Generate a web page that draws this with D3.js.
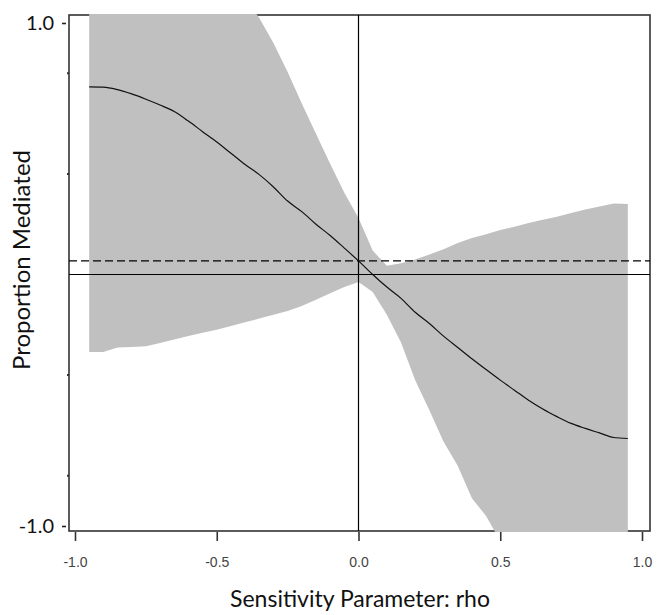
<!DOCTYPE html>
<html>
<head>
<meta charset="utf-8">
<script src="https://cdn.jsdelivr.net/npm/d3@7"></script>
<style>
  body { margin: 0; background: #fff; }
  svg { display: block; }
</style>
</head>
<body>
<div id="chart"></div>
<script>
// Sensitivity values (rho) and estimates
var rho = [-0.95, -0.90, -0.85, -0.80, -0.75, -0.70, -0.65, -0.60, -0.55, -0.50,
           -0.45, -0.40, -0.35, -0.30, -0.25, -0.20, -0.15, -0.10, -0.05, 0.00,
            0.05, 0.10, 0.15, 0.20, 0.25, 0.30, 0.35, 0.40, 0.45, 0.50,
            0.55, 0.60, 0.65, 0.70, 0.75, 0.80, 0.85, 0.90, 0.95];

// proportion mediated (point estimate)
var estimate = [0.746, 0.745, 0.735, 0.718, 0.697, 0.674, 0.648, 0.610, 0.568, 0.527,
                0.482, 0.437, 0.397, 0.348, 0.292, 0.250, 0.200, 0.155, 0.105, 0.054,
                0.000, -0.050, -0.095, -0.150, -0.195, -0.245, -0.290, -0.335, -0.378, -0.420,
                -0.460, -0.500, -0.535, -0.565, -0.592, -0.612, -0.630, -0.648, -0.652];

// upper bound of the interval (runs off the top of the plot on the left)
var upper = [2.00, 1.91, 1.82, 1.73, 1.64, 1.55, 1.46, 1.38, 1.31, 1.24,
             1.17, 1.10, 1.02, 0.920, 0.805, 0.680, 0.560, 0.440, 0.325, 0.225,
             0.095, 0.035, 0.045, 0.060, 0.080, 0.100, 0.125, 0.145, 0.160, 0.177,
             0.190, 0.205, 0.218, 0.230, 0.245, 0.258, 0.270, 0.282, 0.280];

// lower bound of the interval (runs off the bottom on the right)
var lower = [-0.308, -0.308, -0.290, -0.288, -0.285, -0.272, -0.258, -0.245, -0.232, -0.220,
             -0.205, -0.190, -0.175, -0.160, -0.145, -0.125, -0.100, -0.075, -0.050, -0.030,
             -0.070, -0.160, -0.270, -0.420, -0.540, -0.665, -0.760, -0.890, -0.960, -1.060,
             -1.150, -1.240, -1.330, -1.420, -1.510, -1.600, -1.690, -1.770, -1.850];

var refValue = 0.054;   // dashed line: estimate at rho = 0

var xTicks = [-1, -0.5, 0, 0.5, 1];
var yMajorTicks = [-1, 1];
var yMinorTicks = [-0.8, -0.4, 0.4, 0.8];

// SVG area
var svgWidth = 659;
var svgHeight = 615;

// plot frame
var frame = { left: 69, right: 650, top: 15, bottom: 531 };

var svg = d3.select("#chart")
    .append("svg")
    .attr("width", svgWidth)
    .attr("height", svgHeight);

var xScale = d3.scaleLinear()
    .domain([-1, 1])
    .range([75, 642]);

var yScale = d3.scaleLinear()
    .domain([-1, 1])
    .range([526, 23]);

var data = rho.map(function (r, i) {
    return { rho: r, est: estimate[i], hi: upper[i], lo: lower[i] };
});

// frame box
svg.append("rect")
    .attr("x", frame.left)
    .attr("y", frame.top)
    .attr("width", frame.right - frame.left)
    .attr("height", frame.bottom - frame.top)
    .attr("fill", "none")
    .attr("stroke", "#333")
    .attr("stroke-width", 1.6);

svg.append("clipPath")
    .attr("id", "plot-clip")
    .append("rect")
    .attr("x", frame.left)
    .attr("y", frame.top - 1)
    .attr("width", frame.right - frame.left)
    .attr("height", frame.bottom - frame.top + 2);

var plot = svg.append("g").attr("clip-path", "url(#plot-clip)");

// confidence band
var band = d3.area()
    .x(d => xScale(d.rho))
    .y0(d => yScale(d.lo))
    .y1(d => yScale(d.hi));

plot.append("path")
    .datum(data)
    .attr("d", band)
    .attr("fill", "#c0c0c0");

// reference lines
plot.append("line")
    .attr("x1", frame.left).attr("x2", frame.right)
    .attr("y1", yScale(0)).attr("y2", yScale(0))
    .attr("stroke", "#000")
    .attr("stroke-width", 1.2);

plot.append("line")
    .attr("x1", frame.left).attr("x2", frame.right)
    .attr("y1", yScale(refValue)).attr("y2", yScale(refValue))
    .attr("stroke", "#000")
    .attr("stroke-width", 1.2)
    .attr("stroke-dasharray", "8,4");

plot.append("line")
    .attr("x1", xScale(0)).attr("x2", xScale(0))
    .attr("y1", frame.top).attr("y2", frame.bottom)
    .attr("stroke", "#000")
    .attr("stroke-width", 1.2);

// estimate curve
var curve = d3.line()
    .x(d => xScale(d.rho))
    .y(d => yScale(d.est))
    .curve(d3.curveMonotoneX);

plot.append("path")
    .datum(data)
    .attr("d", curve)
    .attr("fill", "none")
    .attr("stroke", "#111")
    .attr("stroke-width", 1.2);

// x axis
var bottomAxis = d3.axisBottom(xScale)
    .tickValues(xTicks)
    .tickSize(9)
    .tickPadding(16)
    .tickFormat(d => d.toFixed(1));

var xAxis = svg.append("g")
    .attr("transform", `translate(0, ${frame.bottom + 1})`)
    .call(bottomAxis);

xAxis.select(".domain").remove();
xAxis.selectAll(".tick line")
    .attr("stroke", "#333")
    .attr("stroke-width", 1.6);
xAxis.selectAll(".tick text")
    .attr("fill", "#444")
    .style("font-family", "'Liberation Sans', Arial, sans-serif")
    .style("font-size", "14px");

// y axis: labelled ends plus small unlabelled ticks
var leftAxis = d3.axisLeft(yScale)
    .tickValues(yMajorTicks)
    .tickSize(0)
    .tickPadding(15)
    .tickFormat(d => d.toFixed(1));

var yAxis = svg.append("g")
    .attr("transform", `translate(${frame.left}, 0)`)
    .call(leftAxis);

yAxis.select(".domain").remove();
yAxis.selectAll(".tick text")
    .attr("fill", "#111")
    .style("font-family", "Lato, 'Open Sans', sans-serif")
    .style("font-size", "20px");
yAxis.selectAll(".tick").append("line")
    .attr("x1", -7).attr("x2", -3)
    .attr("stroke", "#222")
    .attr("stroke-width", 1.6);

svg.append("g").selectAll("line")
    .data(yMinorTicks)
    .enter()
    .append("line")
    .attr("x1", frame.left - 2)
    .attr("x2", frame.left)
    .attr("y1", d => yScale(d))
    .attr("y2", d => yScale(d))
    .attr("stroke", "#333")
    .attr("stroke-width", 2);

// axis titles
svg.append("text")
    .attr("x", 360)
    .attr("y", 607)
    .attr("text-anchor", "middle")
    .attr("fill", "#111")
    .style("font-family", "Lato, 'Open Sans', sans-serif")
    .style("font-size", "23px")
    .text("Sensitivity Parameter: rho");

svg.append("text")
    .attr("transform", "translate(30, 260) rotate(-90)")
    .attr("text-anchor", "middle")
    .attr("fill", "#111")
    .style("font-family", "Lato, 'Open Sans', sans-serif")
    .style("font-size", "24px")
    .text("Proportion Mediated");
</script>
</body>
</html>
